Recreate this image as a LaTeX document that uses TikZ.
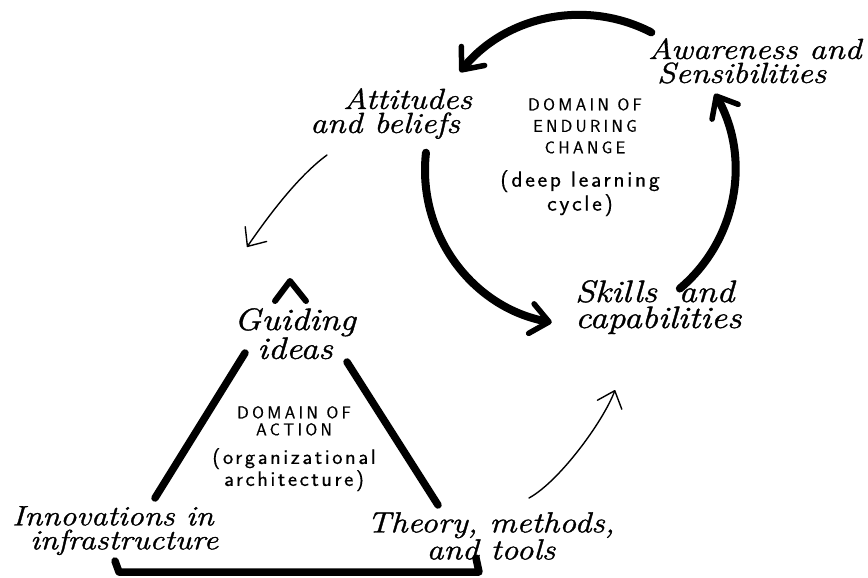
\documentclass[tikz,border=0pt]{standalone}
\usepackage{fontspec}
\setmainfont{Latin Modern Roman}
\newfontfamily\handit{Latin Modern Roman}[FakeStretch=1.16,FakeBold=1.2]
\newfontfamily\handsf{Latin Modern Sans}[LetterSpace=20,FakeBold=0.6]
\newfontfamily\handsfp{Latin Modern Sans}[LetterSpace=12,FakeStretch=1.05,FakeBold=0.4]
\usetikzlibrary{arrows.meta}
\begin{document}
\begin{tikzpicture}[x=1pt,y=-1pt,
  lab/.style={inner sep=0pt, font=\handit\itshape\fontsize{29}{24}\selectfont},
  dom/.style={inner sep=0pt, align=center, font=\handsf\fontsize{17}{21.5}\selectfont},
  paren/.style={inner sep=0pt, align=center, font=\handsfp\fontsize{22}{24}\selectfont},
  heavy/.style={line width=7.5pt, line cap=round, line join=round},
  heavyarrow/.style={line width=8pt, line cap=round, -{Straight Barb[length=18pt,width=30pt,line width=5.5pt,round]}},
  thinarrow/.style={line width=1.4pt, line cap=round, -{Straight Barb[length=15pt,width=26pt,line width=1.4pt,round]}}
]
\fill[white] (0,0) rectangle (868,578);
\useasboundingbox (0,0) rectangle (868,578);

% labels
\node[lab, anchor=north west, align=left] (aware) at (648,38) {Awareness and\\\hspace*{9pt}Sensibilities};
\node[lab, anchor=north west, align=left] (att) at (310,88) {\hspace*{33pt}Attitudes\\and beliefs};
\node[lab, anchor=north west, align=left, font=\handit\itshape\fontsize{31}{26}\selectfont] (skill) at (575,280) {Skills\hspace{0.7em}and\\capabilities};
\node[lab, anchor=north, align=center, font=\handit\itshape\fontsize{31}{27}\selectfont] (guide) at (295,308) {Guiding\\ideas};
\node[lab, anchor=north west, align=left, font=\handit\itshape\fontsize{28}{24}\selectfont] (innov) at (12,506) {Innovations in\\\hspace*{18pt}infrastructure};
\node[lab, anchor=north, align=center, font=\handit\itshape\fontsize{29}{23}\selectfont] (theory) at (491,512) {Theory, methods,\\and tools};

% domain texts
\node[dom, anchor=north] (dec) at (585,98) {DOMAIN OF\\ENDURING\\CHANGE};
\node[paren, anchor=north] (deep) at (580,170) {(deep learning\\cycle)};
\node[dom, anchor=north, font=\handsf\fontsize{17}{17}\selectfont] (doa) at (294,406) {DOMAIN OF\\ACTION};
\node[paren, anchor=north, font=\handsfp\fontsize{21}{18}\selectfont] (org) at (294,448) {(organizational\\architecture)};

% deep learning cycle
\coordinate (cyc) at (580,170);
\draw[heavyarrow] ([shift={(-62.6:155)}]cyc) arc[start angle=-62.6, end angle=-140.8, radius=155];
\draw[heavyarrow] ([shift={(-173.6:155)}]cyc) arc[start angle=-173.6, end angle=-259.5, radius=155];
\draw[heavyarrow] ([shift={(49.9:155)}]cyc) arc[start angle=49.9, end angle=-29.5, radius=155];

% thin arrows
\coordinate (t1s) at (327,155);
\coordinate (t1e) at (247,247);
\draw[thinarrow] (t1s) .. controls (297,177) and (267,218) .. (t1e);
\coordinate (t2s) at (529,498);
\coordinate (t2e) at (615,390);
\draw[thinarrow] (t2s) .. controls (560,481) and (604,420) .. (t2e);

% triangle
\coordinate (gl) at (245,353);
\coordinate (il) at (155,498);
\coordinate (gr) at (347,362);
\coordinate (tr) at (438,505);
\draw[heavy] (gl) -- (il);
\draw[heavy] (gr) -- (tr);
\coordinate (bl) at (115,561);
\coordinate (br) at (476,558);
\draw[heavy] (bl) -- (119,572) -- (479,572) -- (br);
% caret
\coordinate (apex) at (290,281);
\draw[line width=6pt, line cap=round, line join=round] (275,301) -- (apex) -- (306,301);
\end{tikzpicture}
\end{document}
